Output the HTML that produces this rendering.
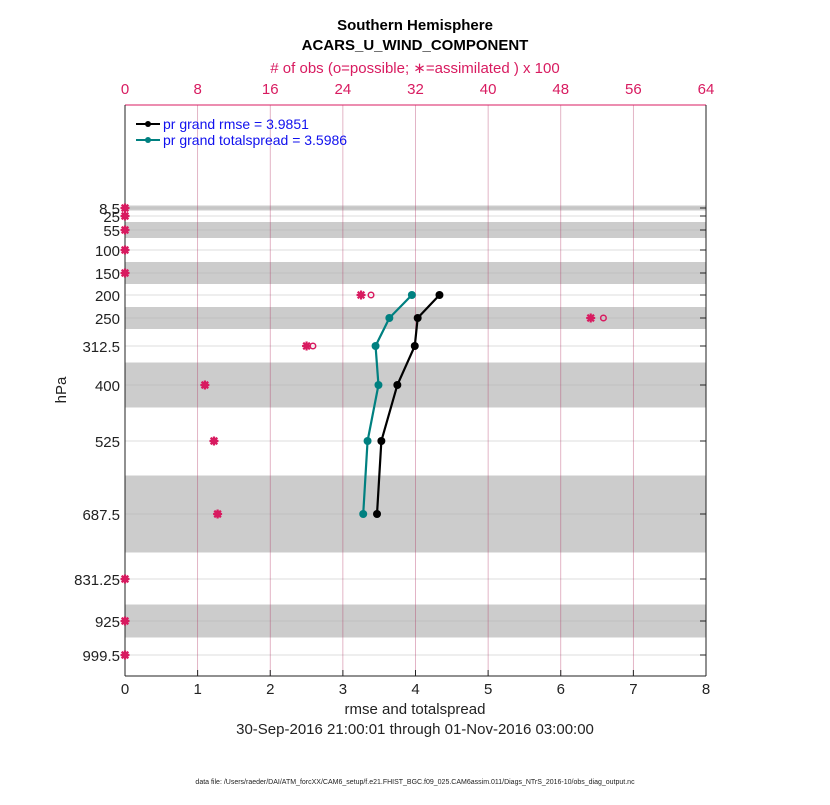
<!DOCTYPE html>
<html><head><meta charset="utf-8"><style>
body{margin:0;background:#fff;}
svg text{font-family:"Liberation Sans",sans-serif;}
</style></head><body>
<svg id="c" width="830" height="800" xmlns="http://www.w3.org/2000/svg"></svg>
<script>
const levels=[8.5,25,55,100,150,200,250,312.5,400,525,687.5,831.25,925,999.5];
const levelLabels=["8.5","25","55","100","150","200","250","312.5","400","525","687.5","831.25","925","999.5"];
const levelPix=[208,216,230,250,273,295,318,346,385,441,514,579,621,655];
const bandLevels=[8.5,55,150,250,400,687.5,925];
const bandHalf=[2.5,8,11,11,22.5,38.5,16.5];
const rmseLevels=[200,250,312.5,400,525,687.5];
const rmse=[4.33,4.03,3.99,3.75,3.53,3.47];
const spread=[3.95,3.64,3.45,3.49,3.34,3.28];
const obsAssim=[0,0,0,0,0,26.0,51.3,20.0,8.8,9.8,10.2,0,0,0];
const obsPoss=[0,0,0,0,0,27.1,52.7,20.7,8.8,9.8,10.2,0,0,0];
const xTicks=[0,1,2,3,4,5,6,7,8];
const topTicks=[0,8,16,24,32,40,48,56,64];
const X0=125,X1=706,Y0=105,Y1=676;
const xs=v=>X0+(X1-X0)*v/8;
const xt=v=>X0+(X1-X0)*v/64;
const ys=l=>levelPix[levels.indexOf(l)];
const svg=document.getElementById('c');
const NS='http://www.w3.org/2000/svg';
function mk(t,a,p){const e=document.createElementNS(NS,t);for(const k in a)e.setAttribute(k,a[k]);(p||svg).appendChild(e);return e;}
function tx(x,y,s,a){const e=mk('text',Object.assign({x:x,y:y},a));e.textContent=s;return e;}
let e;
bandLevels.forEach((l,i)=>{e=mk('rect',{x:X0,y:ys(l)-bandHalf[i],width:X1-X0,height:2*bandHalf[i],fill:'#cccccc'});

});
levels.forEach((l,i)=>{mk('line',{x1:X0,x2:X1,y1:levelPix[i],y2:levelPix[i],stroke:'#b0b0b0','stroke-width':0.8,'stroke-opacity':0.6});
mk('line',{x1:X1-6,x2:X1,y1:levelPix[i],y2:levelPix[i],stroke:'#222'});
e=tx(X0-5,levelPix[i]+6,levelLabels[i],{'text-anchor':'end','font-size':15,fill:'#222'});

});
topTicks.forEach(v=>{if(v>0&&v<64)mk('line',{x1:xt(v),x2:xt(v),y1:Y0,y2:Y1,stroke:'#b03060','stroke-opacity':0.45,'stroke-width':0.8});
e=tx(xt(v),94,String(v),{'text-anchor':'middle','font-size':15,fill:'#d81b60'});

});
xTicks.forEach(v=>{mk('line',{x1:xs(v),x2:xs(v),y1:Y1,y2:Y1-6,stroke:'#222'});
e=tx(xs(v),694,String(v),{'text-anchor':'middle','font-size':15,fill:'#222'});

});
mk('line',{x1:X0,x2:X1,y1:Y0,y2:Y0,stroke:'#d81b60'});
mk('line',{x1:X0,x2:X1,y1:Y1,y2:Y1,stroke:'#222'});
mk('line',{x1:X0,x2:X0,y1:Y0,y2:Y1,stroke:'#222'});
mk('line',{x1:X1,x2:X1,y1:Y0,y2:Y1,stroke:'#222'});
function series(vals,col,name){const pts=vals.map((v,i)=>xs(v)+','+ys(rmseLevels[i])).join(' ');
e=mk('polyline',{points:pts,fill:'none',stroke:col,'stroke-width':2.2});


vals.forEach((v,i)=>{e=mk('circle',{cx:xs(v),cy:ys(rmseLevels[i]),r:4,fill:col});

});}
series(spread,'#008080','spread');
series(rmse,'#000','rmse');
levels.forEach((l,i)=>{e=mk('circle',{cx:xt(obsPoss[i]),cy:levelPix[i],r:2.8,fill:'none',stroke:'#d81b60','stroke-width':1.5});


const g=mk('g',{transform:'translate('+xt(obsAssim[i])+','+levelPix[i]+')',stroke:'#d81b60','stroke-width':2.2});


mk('line',{x1:-4.5,x2:4.5,y1:0,y2:0},g);mk('line',{x1:0,x2:0,y1:-4.5,y2:4.5},g);
mk('line',{x1:-3.3,x2:3.3,y1:-3.3,y2:3.3},g);mk('line',{x1:-3.3,x2:3.3,y1:3.3,y2:-3.3},g);});
mk('line',{x1:136,x2:160,y1:124,y2:124,stroke:'#000','stroke-width':2});mk('circle',{cx:148,cy:124,r:3,fill:'#000'});
e=tx(163,129,'pr grand rmse = 3.9851',{'font-size':14,fill:'#1010ee'});


mk('line',{x1:136,x2:160,y1:140,y2:140,stroke:'#008080','stroke-width':2});mk('circle',{cx:148,cy:140,r:3,fill:'#008080'});
e=tx(163,145,'pr grand totalspread = 3.5986',{'font-size':14,fill:'#1010ee'});


e=tx(415,30,'Southern Hemisphere',{'text-anchor':'middle','font-size':15,'font-weight':'bold'});


e=tx(415,50,'ACARS_U_WIND_COMPONENT',{'text-anchor':'middle','font-size':15,'font-weight':'bold'});


e=tx(415,73,'# of obs (o=possible; \u2217=assimilated ) x 100',{'text-anchor':'middle','font-size':15,fill:'#d81b60'});


e=tx(415,714,'rmse and totalspread',{'text-anchor':'middle','font-size':15,fill:'#222'});


e=tx(415,734,'30-Sep-2016 21:00:01 through 01-Nov-2016 03:00:00',{'text-anchor':'middle','font-size':15,fill:'#222'});


e=tx(66,390,'hPa',{'text-anchor':'middle','font-size':15,fill:'#222',transform:'rotate(-90 66 390)'});


e=tx(415,784,'data file: /Users/raeder/DAI/ATM_forcXX/CAM6_setup/f.e21.FHIST_BGC.f09_025.CAM6assim.011/Diags_NTrS_2016-10/obs_diag_output.nc',{'text-anchor':'middle','font-size':7,fill:'#222'});


</script>
</body></html>
